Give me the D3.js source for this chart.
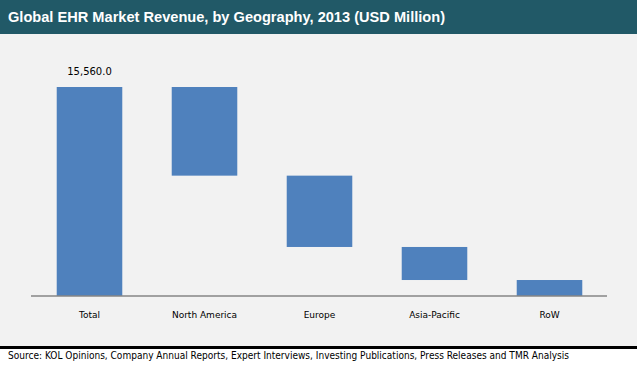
<!DOCTYPE html>
<html>
<head>
<meta charset="utf-8">
<script src="https://cdn.jsdelivr.net/npm/d3@7"></script>
<style>
  body { margin: 0; background: #fff; }
  svg { display: block; }
</style>
</head>
<body>
<div id="chart"></div>
<script>
// waterfall data
const categories = ["Total", "North America", "Europe", "Asia-Pacific", "RoW"];
const values = [15560, 6600, 5310, 2460, 1190];
const totalLabel = "15,560.0";

const W = 637, H = 368;

const svg = d3.select("#chart").append("svg")
    .attr("width", W)
    .attr("height", H);

// title strip
svg.append("rect").attr("x", 0).attr("y", 0).attr("width", W).attr("height", 34).attr("fill", "#215967");
svg.append("text")
    .attr("x", 8).attr("y", 22)
    .attr("fill", "#fff")
    .attr("font-family", "Liberation Sans, Arial, sans-serif")
    .attr("font-weight", "bold")
    .attr("font-size", 14)
    .attr("textLength", 437)
    .attr("lengthAdjust", "spacingAndGlyphs")
    .text("Global EHR Market Revenue, by Geography, 2013 (USD Million)");

// plot background
svg.append("rect").attr("x", 0).attr("y", 34).attr("width", W).attr("height", 313).attr("fill", "#f2f2f2");
svg.append("rect").attr("x", 0).attr("y", 346).attr("width", W).attr("height", 3).attr("fill", "#000");

// scales
const x = d3.scaleBand()
    .domain(categories)
    .range([32, 607])
    .paddingInner(0.43)
    .paddingOuter(0.215);

const y = d3.scaleLinear()
    .domain([0, values[0]])
    .range([296, 87]);

// compute waterfall segments
let running = values[0];
const segs = categories.map((c, i) => {
    if (i === 0) return { c, lo: 0, hi: values[0] };
    const hi = running;
    running -= values[i];
    return { c, lo: running, hi };
});

svg.append("g")
    .selectAll("rect")
    .data(segs)
    .join("rect")
    .attr("x", d => x(d.c))
    .attr("width", x.bandwidth())
    .attr("y", d => y(d.hi))
    .attr("height", d => y(d.lo) - y(d.hi))
    .attr("fill", "#4f81bd");

// total value label
svg.append("text")
    .attr("x", x(categories[0]) + x.bandwidth() / 2)
    .attr("y", y(values[0]) - 12)
    .attr("text-anchor", "middle")
    .attr("font-family", "DejaVu Sans, sans-serif")
    .attr("font-size", 10)
    .attr("fill", "#000")
    .text(totalLabel);

// x axis
const xAxis = svg.append("g")
    .attr("transform", "translate(0,296)")
    .call(d3.axisBottom(x).tickSize(0).tickPadding(16));
xAxis.select(".domain").attr("stroke", "#868686").attr("stroke-width", 1.5).attr("d", "M31,0H607");
xAxis.selectAll("text")
    .attr("font-family", "DejaVu Sans, sans-serif")
    .attr("font-size", 9)
    .attr("fill", "#000");

// source line
svg.append("text")
    .attr("x", 8).attr("y", 359)
    .attr("font-family", "DejaVu Sans, sans-serif")
    .attr("font-size", 10)
    .attr("fill", "#000")
    .attr("textLength", 561)
    .attr("lengthAdjust", "spacingAndGlyphs")
    .text("Source: KOL Opinions, Company Annual Reports, Expert Interviews, Investing Publications, Press Releases and TMR Analysis");
</script>
</body>
</html>
